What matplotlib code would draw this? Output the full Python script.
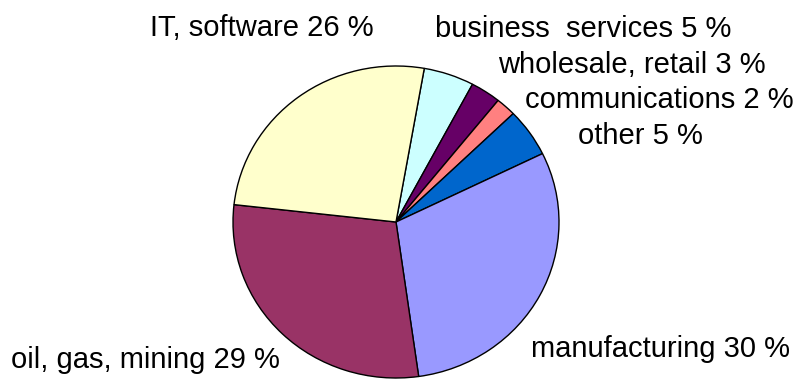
import matplotlib
matplotlib.use("Agg")
import matplotlib.pyplot as plt

plt.rcParams['font.family'] = ['Liberation Sans', 'DejaVu Sans']

# sectors in clockwise order, starting just right of 12 o'clock
sectors = ['business  services', 'wholesale, retail', 'communications',
           'other', 'manufacturing', 'oil, gas, mining', 'IT, software']
shares = [5, 3, 2, 5, 30, 29, 26]
colors = ['#CCFFFF', '#660066', '#FF8080', '#0066CC',
          '#9999FF', '#993366', '#FFFFCC']

W, H = 794, 379
fig = plt.figure(figsize=(W / 100, H / 100), dpi=100)
ax = fig.add_axes([0, 0, 1, 1])

ax.pie(shares, colors=colors, startangle=80, counterclock=False,
       radius=1.0, center=(0, 0),
       wedgeprops=dict(edgecolor='black', linewidth=1.0))

# pixel geometry of the (slightly oval) pie
cx, cy, rx, ry = 396, 222, 163, 156
ax.set_aspect('auto')
ax.set_xlim(-cx / rx, (W - cx) / rx)
ax.set_ylim(-(H - cy) / ry, cy / ry)
ax.axis('off')

# label anchors: left edge x and baseline y, in pixels from top-left
label_pos = {
    'IT, software': (150, 36),
    'business  services': (435, 37),
    'wholesale, retail': (498, 73),
    'communications': (525, 108),
    'other': (578, 144),
    'oil, gas, mining': (11, 368),
    'manufacturing': (531, 357),
}
for name, val in zip(sectors, shares):
    x, y = label_pos[name]
    fig.text(x / W, 1 - y / H, f"{name} {val} %", fontsize=21,
             ha='left', va='baseline', color='black')

fig.savefig('out.png', dpi=100)
